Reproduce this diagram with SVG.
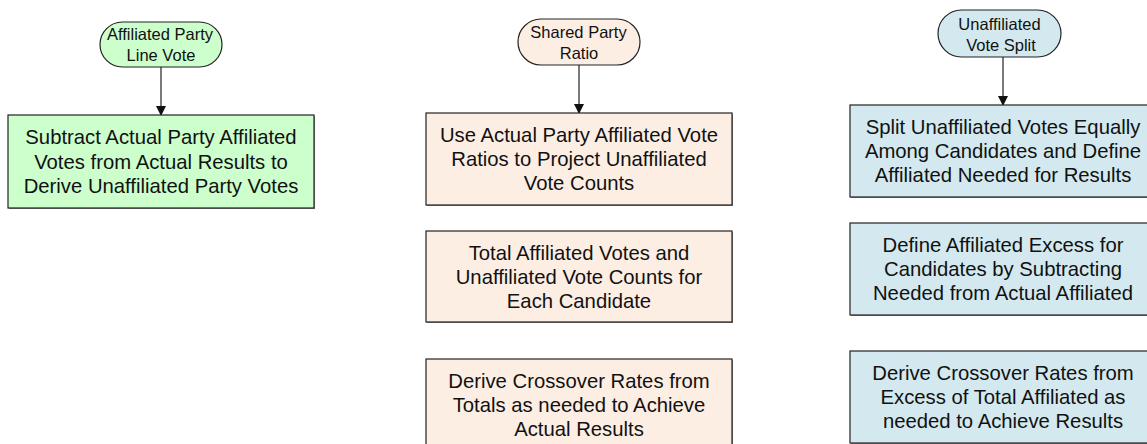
<svg xmlns="http://www.w3.org/2000/svg" width="1147" height="444" viewBox="0 0 1147 444">
<style>
text{font-family:"Liberation Sans",Arial,sans-serif;fill:#111;text-anchor:middle}
.t{font-size:16.5px}
.b{font-size:20.3px}
.shape{stroke:#222;stroke-width:1.2}
.sh{fill:#8a8a8a}
.g{fill:#ccffcc}
.p{fill:#fdeee4}
.u{fill:#d3e9ef}
.conn{stroke:#222;stroke-width:1.2;fill:none}
</style>
<defs>
<marker id="arr" markerWidth="10" markerHeight="10" refX="9" refY="5" orient="auto" markerUnits="userSpaceOnUse">
<path d="M0,0 L10,5 L0,10 z" fill="#111"/>
</marker>
</defs>
<rect width="1147" height="444" fill="#fff"/>
<g id="connectors">
<line class="conn" x1="161" y1="67" x2="161" y2="115" marker-end="url(#arr)"/>
<line class="conn" x1="579" y1="65" x2="579" y2="113" marker-end="url(#arr)"/>
<line class="conn" x1="1003" y1="57" x2="1003" y2="105" marker-end="url(#arr)"/>
</g>
<g id="term-affiliated">
<rect class="shape g" x="100" y="22" width="122" height="45" rx="22.5"/>
<text class="t" x="160" y="39.5">Affiliated Party</text>
<text class="t" x="161" y="60.5">Line Vote</text>
</g>
<g id="term-shared">
<rect class="shape p" x="518" y="19" width="122" height="46" rx="23"/>
<text class="t" x="578.5" y="37.5">Shared Party</text>
<text class="t" x="579" y="58.5">Ratio</text>
</g>
<g id="term-unaffiliated">
<rect class="shape u" x="938" y="10" width="123" height="47" rx="23.5"/>
<text class="t" x="999.5" y="29.5">Unaffiliated</text>
<text class="t" x="1001" y="50.5">Vote Split</text>
</g>
<g id="box-green-1">
<rect class="sh" x="9" y="116" width="306" height="93"/>
<rect class="shape g" x="8" y="115" width="306" height="93"/>
<text class="b" x="161" y="144">Subtract Actual Party Affiliated</text>
<text class="b" x="161" y="168.5">Votes from Actual Results to</text>
<text class="b" x="161" y="193">Derive Unaffiliated Party Votes</text>
</g>
<g id="box-peach-1">
<rect class="sh" x="427" y="114" width="306" height="92"/>
<rect class="shape p" x="426" y="113" width="306" height="92"/>
<text class="b" x="579" y="142">Use Actual Party Affiliated Vote</text>
<text class="b" x="579" y="166">Ratios to Project Unaffiliated</text>
<text class="b" x="579" y="190">Vote Counts</text>
</g>
<g id="box-peach-2">
<rect class="sh" x="427" y="232" width="306" height="91"/>
<rect class="shape p" x="426" y="231" width="306" height="91"/>
<text class="b" x="579" y="260">Total Affiliated Votes and</text>
<text class="b" x="579" y="284">Unaffiliated Vote Counts for</text>
<text class="b" x="579" y="308">Each Candidate</text>
</g>
<g id="box-peach-3">
<rect class="sh" x="427" y="360" width="306" height="92"/>
<rect class="shape p" x="426" y="359" width="306" height="92"/>
<text class="b" x="579" y="388">Derive Crossover Rates from</text>
<text class="b" x="579" y="412">Totals as needed to Achieve</text>
<text class="b" x="579" y="436">Actual Results</text>
</g>
<g id="box-blue-1">
<rect class="sh" x="851" y="106" width="306" height="92"/>
<rect class="shape u" x="850" y="105" width="306" height="92"/>
<text class="b" x="1003" y="134">Split Unaffiliated Votes Equally</text>
<text class="b" x="1003" y="158">Among Candidates and Define</text>
<text class="b" x="1003" y="182">Affiliated Needed for Results</text>
</g>
<g id="box-blue-2">
<rect class="sh" x="851" y="224" width="306" height="92"/>
<rect class="shape u" x="850" y="223" width="306" height="92"/>
<text class="b" x="1003" y="252">Define Affiliated Excess for</text>
<text class="b" x="1003" y="276">Candidates by Subtracting</text>
<text class="b" x="1003" y="300">Needed from Actual Affiliated</text>
</g>
<g id="box-blue-3">
<rect class="sh" x="851" y="352" width="306" height="92"/>
<rect class="shape u" x="850" y="351" width="306" height="92"/>
<text class="b" x="1003" y="380">Derive Crossover Rates from</text>
<text class="b" x="1003" y="404">Excess of Total Affiliated as</text>
<text class="b" x="1003" y="428">needed to Achieve Results</text>
</g>
</svg>
